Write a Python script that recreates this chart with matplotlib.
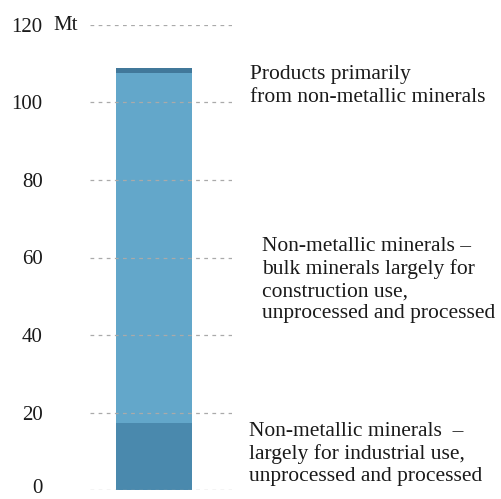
import matplotlib.pyplot as plt
import matplotlib.transforms as mtransforms

# Дані: сегменти одного стовпчика (Mt)
segments = ['industrial', 'bulk', 'products']
values = [17.3, 90.3, 1.3]
colors = ['#4a89ad', '#63a7ca', '#41789a']
yticks = [0, 20, 40, 60, 80, 100, 120]
labels = [
    'Non-metallic minerals  –\nlargely for industrial use,\nunprocessed and processed',
    'Non-metallic minerals –\nbulk minerals largely for\nconstruction use,\nunprocessed and processed',
    'Products primarily\nfrom non-metallic minerals',
]

plt.rcParams['font.family'] = ['Liberation Serif', 'DejaVu Serif']

fig = plt.figure(figsize=(5.02, 4.99), dpi=100)
ax = fig.add_axes([90 / 502, 9 / 499, 142 / 502, 465 / 499])

bottom = 0
for v, c in zip(values, colors):
    ax.bar(0, v, width=1.0, bottom=bottom, color=c, zorder=1)
    bottom += v

ax.set_ylim(0, 120)
ax.set_xlim(-0.842, 1.026)
ax.set_yticks(yticks)
ax.set_yticklabels([str(t) for t in yticks], fontsize=15, color='#1a1a1a')
ax.tick_params(axis='y', length=0, pad=34)
ax.tick_params(axis='x', bottom=False, labelbottom=False)
for s in ax.spines.values():
    s.set_visible(False)

# підняти "0", щоб не обрізався знизу
lbl0 = ax.get_yticklabels()[0]
lbl0.set_transform(lbl0.get_transform() +
                   mtransforms.ScaledTranslation(0, 4 / 100, fig.dpi_scale_trans))

ax.set_axisbelow(False)
ax.yaxis.grid(True, color='#aaaaaa', linestyle=(0, (3, 3.5)), linewidth=0.9, zorder=3)

fig.text(53 / 502, (499 - 25) / 499, 'Mt', fontsize=15, color='#1a1a1a',
         ha='left', va='center')

# Підписи сегментів
pos = [(249, 454), (262, 280), (250, 86)]
sizes = [15.5, 15.5, 15.5]
for (px, py), txt, fs in zip(pos, labels, sizes):
    fig.text(px / 502, (499 - py) / 499, txt, fontsize=fs, color='#1a1a1a',
             ha='left', va='center', linespacing=1.22)

fig.savefig('out.png', dpi=100)
